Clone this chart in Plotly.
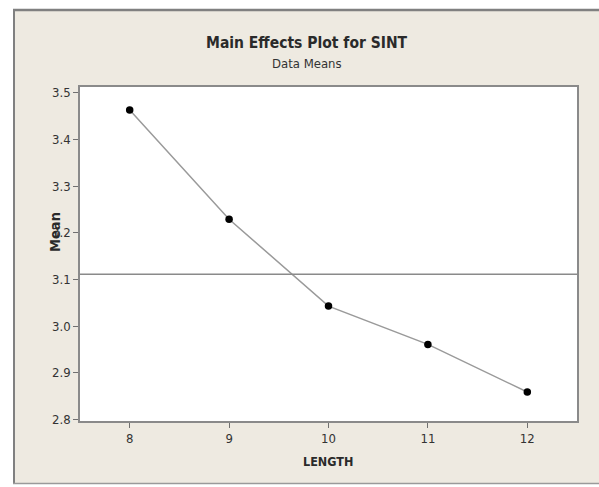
import plotly.graph_objects as go

# ---- data ----
length_levels = [8, 9, 10, 11, 12]
mean_sint = [3.463, 3.229, 3.043, 2.961, 2.859]
overall_mean = 3.111
y_ticks = [2.8, 2.9, 3.0, 3.1, 3.2, 3.3, 3.4, 3.5]
y_tick_labels = ["2.8", "2.9", "3.0", "3.1", "3.2", "3.3", "3.4", "3.5"]
x_ticks = [8, 9, 10, 11, 12]

W, H = 599, 487
L, R, T, B = 80, 577, 87, 421  # plot area in pixels

def px(x):
    return (x - L) / (R - L)

def py(y):
    return (B - y) / (B - T)

FONT = "Liberation Sans Narrow, DejaVu Sans Condensed, Arial Narrow, sans-serif"
BEIGE = "#EEEAE1"
TXT = "#333333"

fig = go.Figure()
fig.add_trace(go.Scatter(
    x=length_levels, y=mean_sint, mode="lines+markers",
    line=dict(color="#9a9a9a", width=1.5),
    marker=dict(color="black", size=7.5),
    showlegend=False, cliponaxis=False,
))

shapes = []
# white margins outside panel
shapes.append(dict(type="rect", xref="paper", yref="paper", x0=px(-5), x1=px(W + 5), y0=py(-5), y1=py(9),
                   fillcolor="white", line=dict(width=0), layer="above"))
shapes.append(dict(type="rect", xref="paper", yref="paper", x0=px(-5), x1=px(13), y0=py(-5), y1=py(H + 5),
                   fillcolor="white", line=dict(width=0), layer="above"))
shapes.append(dict(type="rect", xref="paper", yref="paper", x0=px(-5), x1=px(W + 5), y0=py(484), y1=py(H + 5),
                   fillcolor="white", line=dict(width=0), layer="above"))
# panel border
shapes.append(dict(type="line", xref="paper", yref="paper", x0=px(13), x1=px(W + 5), y0=py(10), y1=py(10),
                   line=dict(color="#808080", width=2.5), layer="above"))
shapes.append(dict(type="line", xref="paper", yref="paper", x0=px(14), x1=px(14), y0=py(10), y1=py(484),
                   line=dict(color="#808080", width=2), layer="above"))
shapes.append(dict(type="line", xref="paper", yref="paper", x0=px(13), x1=px(W + 5), y0=py(483.5), y1=py(483.5),
                   line=dict(color="#9a9a9a", width=1.5), layer="above"))
# overall mean reference line
shapes.append(dict(type="line", xref="paper", yref="y", x0=0, x1=1, y0=overall_mean, y1=overall_mean,
                   line=dict(color="#8a8a8a", width=1.5), layer="above"))

annotations = [
    dict(text="<b>Main Effects Plot for SINT</b>", xref="paper", yref="paper", x=px(307), y=py(43),
         showarrow=False, font=dict(family=FONT, size=15.5, color="#2a2a2a"), xanchor="center", yanchor="middle"),
    dict(text="Data Means", xref="paper", yref="paper", x=px(307), y=py(63),
         showarrow=False, font=dict(family=FONT, size=13, color=TXT), xanchor="center", yanchor="middle"),
    dict(text="<b>Mean</b>", xref="paper", yref="paper", x=px(55), y=py(232), textangle=-90,
         showarrow=False, font=dict(family=FONT, size=14.5, color="#2a2a2a"), xanchor="center", yanchor="middle"),
    dict(text="<b>LENGTH</b>", xref="paper", yref="paper", x=px(328), y=py(461),
         showarrow=False, font=dict(family=FONT, size=12.5, color="#2a2a2a"), xanchor="center", yanchor="middle"),
]

fig.update_layout(
    width=W, height=H,
    margin=dict(l=L, r=W - R, t=T, b=H - B, pad=0),
    paper_bgcolor=BEIGE, plot_bgcolor="white",
    shapes=shapes, annotations=annotations,
    xaxis=dict(range=[7.5, 12.5], tickvals=x_ticks, ticks="outside", ticklen=5, tickwidth=1,
               tickcolor="#707070", showgrid=False, zeroline=False, showline=True, linecolor="#8a8a8a",
               linewidth=1.5, mirror=True, tickfont=dict(family=FONT, size=13, color=TXT)),
    yaxis=dict(range=[2.797, 3.512], tickvals=y_ticks, ticktext=y_tick_labels, ticks="outside", ticklen=5,
               tickwidth=1, tickcolor="#707070", showgrid=False, zeroline=False, showline=True,
               linecolor="#8a8a8a", linewidth=1.5, mirror=True,
               tickfont=dict(family=FONT, size=13, color=TXT)),
)

fig.write_html("out.html")
